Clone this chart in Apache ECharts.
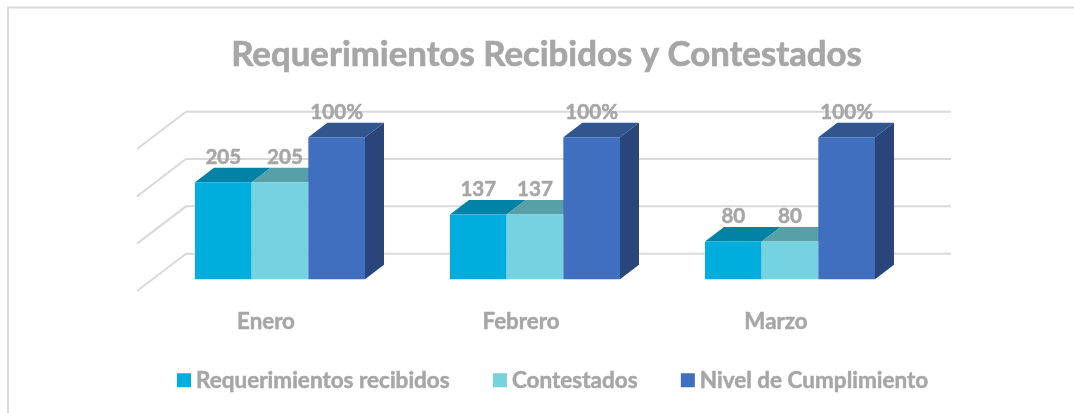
<!DOCTYPE html>
<html>
<head>
<meta charset="utf-8">
<style>
  html, body { margin: 0; padding: 0; background: #fff; }
  #chart { width: 1074px; height: 413px; }
</style>
</head>
<body>
<div id="chart"></div>
<script src="https://cdn.jsdelivr.net/npm/echarts@6/dist/echarts.min.js"></script>
<script>
const categories = ['Enero', 'Febrero', 'Marzo'];
const recibidos = [205, 137, 80];
const contestados = [205, 137, 80];
const cumplimiento = [1, 1, 1];
const ticks = [0, 100, 200, 300];

const FONT = 'Lato';
const GRAY = '#a6a6a6';
const GRID_COLOR = '#d9d9d9';

// la columna ocupa el centro del piso en perspectiva
const BAR_DX = 19, BAR_DY = -14.5;
const BACK_DX = 33.5, BACK_DY = -25.6;
const FRONT_DX = -15.5, FRONT_DY = 11.7;

// caras: frente, tapa, lateral
const colors = [
  { front: '#00aede', top: '#0082a6' },
  { front: '#75d3df', top: '#58a0a8' },
  { front: '#416fbf', top: '#31558f', side: '#2a457c' }
];

function poly(points, fill) {
  return { type: 'polygon', shape: { points }, style: { fill } };
}

// barra 3D, idx = posicion dentro del grupo
function bar3d(idx, format) {
  return function (params, api) {
    const catW = api.size([1, 0])[0];
    const w = catW / 4.5;
    const base = api.coord([api.value(0), 0]);
    const top = api.coord([api.value(0), api.value(1)]);
    const x0 = base[0] - 1.5 * w + idx * w;
    const x1 = x0 + w;
    const c = colors[idx];
    const children = [];
    // solo la ultima barra deja ver su lateral, las otras quedan tapadas
    if (c.side) {
      children.push(poly([[x1, top[1]], [x1 + BAR_DX, top[1] + BAR_DY], [x1 + BAR_DX, base[1] + BAR_DY], [x1, base[1]]], c.side));
    }
    children.push(poly([[x0, top[1]], [x0 + BAR_DX, top[1] + BAR_DY], [x1 + BAR_DX, top[1] + BAR_DY], [x1, top[1]]], c.top));
    children.push({ type: 'rect', shape: { x: x0, y: top[1], width: w, height: base[1] - top[1] }, style: { fill: c.front } });
    // en el original la etiqueta de Enero/Contestados esta movida a mano
    const nudge = idx === 1 && api.value(0) === 0 ? 5 : 0;
    children.push({
      type: 'text', z2: 50,
      style: {
        x: (x0 + x1) / 2 + nudge, y: top[1] - 24.8,
        text: format(api.value(1)),
        fill: GRAY, font: 'bold 20.6px ' + FONT,
        stroke: GRAY, lineWidth: 0.5,
        align: 'center', verticalAlign: 'middle'
      }
    });
    return { type: 'group', children };
  };
}

// lineas del fondo y su diagonal en la pared izquierda
function wallLine(params, api) {
  const cs = params.coordSys;
  const y = api.coord([0, api.value(1)])[1];
  return {
    type: 'polyline',
    shape: { points: [
      [cs.x + FRONT_DX, y + FRONT_DY],
      [cs.x + BACK_DX, y + BACK_DY],
      [cs.x + cs.width + BACK_DX, y + BACK_DY]
    ] },
    style: { stroke: GRID_COLOR, lineWidth: 2, fill: 'none' }
  };
}

const chart = echarts.init(document.getElementById('chart'), null, { renderer: 'canvas' });

chart.setOption({
  animation: false,
  backgroundColor: '#ffffff',
  title: {
    text: 'Requerimientos Recibidos y Contestados',
    left: 541.5, top: 32, textAlign: 'center',
    textStyle: {
      color: GRAY, fontFamily: FONT, fontWeight: 'bold', fontSize: 34.8,
      textBorderColor: GRAY, textBorderWidth: 0.7
    }
  },
  legend: {
    left: 172, top: 363.5,
    icon: 'rect', itemWidth: 14, itemHeight: 14, itemGap: 43,
    selectedMode: false,
    data: ['Requerimientos recibidos', 'Contestados', 'Nivel de Cumplimiento'],
    textStyle: {
      color: GRAY, fontFamily: FONT, fontWeight: 'bold', fontSize: 22.5,
      textBorderColor: GRAY, textBorderWidth: 0.5
    }
  },
  grid: { left: 152.5, width: 765, top: 137.3, height: 142 },
  xAxis: {
    type: 'category',
    data: categories,
    axisLine: { show: false },
    axisTick: { show: false },
    axisLabel: {
      color: GRAY, fontFamily: FONT, fontWeight: 'bold', fontSize: 22.3,
      textBorderColor: GRAY, textBorderWidth: 0.5,
      margin: 32, padding: [0, 28, 0, 0]
    }
  },
  yAxis: [
    { type: 'value', min: 0, max: 300, interval: 100, show: false, splitLine: { show: false } },
    { type: 'value', min: 0, max: 1, interval: 0.25, show: false, splitLine: { show: false } }
  ],
  graphic: [{
    type: 'polyline', silent: true, z: -1,
    shape: { points: [[8, 413], [8, 7.5], [1074, 7.5]] },
    style: { stroke: GRID_COLOR, lineWidth: 2, fill: 'none' }
  }],
  series: [
    {
      type: 'custom', name: 'paredes', silent: true, z: 1,
      renderItem: wallLine,
      encode: { x: 0, y: 1 },
      data: ticks.map(t => [0, t])
    },
    {
      type: 'custom', name: 'Requerimientos recibidos', z: 2,
      itemStyle: { color: colors[0].front },
      renderItem: bar3d(0, v => String(v)),
      encode: { x: 0, y: 1 },
      data: recibidos.map((v, i) => [i, v])
    },
    {
      type: 'custom', name: 'Contestados', z: 3,
      itemStyle: { color: colors[1].front },
      renderItem: bar3d(1, v => String(v)),
      encode: { x: 0, y: 1 },
      data: contestados.map((v, i) => [i, v])
    },
    {
      type: 'custom', name: 'Nivel de Cumplimiento', z: 4, yAxisIndex: 1,
      itemStyle: { color: colors[2].front },
      renderItem: bar3d(2, v => Math.round(v * 100) + '%'),
      encode: { x: 0, y: 1 },
      data: cumplimiento.map((v, i) => [i, v])
    }
  ]
});
</script>
</body>
</html>
